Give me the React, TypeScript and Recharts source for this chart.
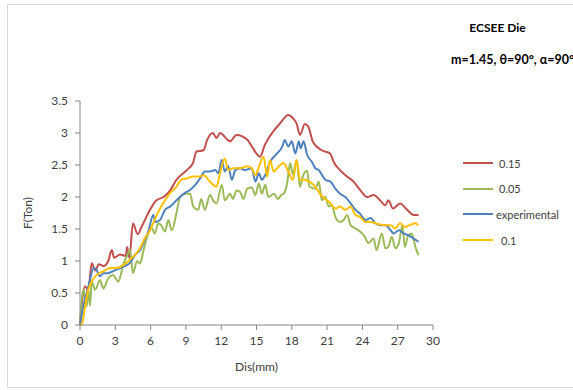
import { LineChart, Line, XAxis, YAxis, Label } from 'recharts'

type Pt = { x: number; y: number }

const X_TICKS = [0, 3, 6, 9, 12, 15, 18, 21, 24, 27, 30]
const Y_TICKS = [0, 0.5, 1, 1.5, 2, 2.5, 3, 3.5]

// m = 0.15
const red: Pt[] = [
  { x: 0, y: 0 }, { x: 0.43, y: 0.6 }, { x: 0.7, y: 0.55 }, { x: 1.0, y: 0.97 }, { x: 1.3, y: 0.85 },
  { x: 1.6, y: 0.95 }, { x: 2.0, y: 0.92 }, { x: 2.4, y: 1.0 }, { x: 2.7, y: 1.17 }, { x: 2.9, y: 1.05 },
  { x: 3.4, y: 1.1 }, { x: 3.9, y: 1.08 }, { x: 4.0, y: 1.22 }, { x: 4.2, y: 1.05 }, { x: 4.5, y: 1.59 },
  { x: 4.9, y: 1.42 }, { x: 5.2, y: 1.52 }, { x: 5.95, y: 1.8 }, { x: 6.5, y: 1.95 }, { x: 7.1, y: 2.0 },
  { x: 7.65, y: 2.1 }, { x: 8.2, y: 2.27 }, { x: 9.07, y: 2.42 }, { x: 9.6, y: 2.53 }, { x: 9.9, y: 2.71 },
  { x: 10.5, y: 2.73 }, { x: 10.8, y: 2.89 }, { x: 11.3, y: 3.0 }, { x: 11.6, y: 2.92 }, { x: 11.9, y: 3.0 },
  { x: 12.75, y: 2.87 }, { x: 13.3, y: 2.97 }, { x: 14.2, y: 2.9 }, { x: 14.6, y: 2.79 }, { x: 15.3, y: 2.63 },
  { x: 15.7, y: 2.81 }, { x: 16.4, y: 3.02 }, { x: 17.0, y: 3.15 }, { x: 17.7, y: 3.28 }, { x: 18.1, y: 3.23 },
  { x: 18.4, y: 3.15 }, { x: 18.7, y: 2.97 }, { x: 19.1, y: 3.14 }, { x: 19.4, y: 3.1 }, { x: 19.8, y: 2.86 },
  { x: 20.55, y: 2.73 }, { x: 21.26, y: 2.68 }, { x: 21.55, y: 2.55 }, { x: 22.1, y: 2.42 }, { x: 22.7, y: 2.32 },
  { x: 23.25, y: 2.24 }, { x: 23.8, y: 2.11 }, { x: 24.4, y: 2.0 }, { x: 24.95, y: 2.03 }, { x: 25.5, y: 1.95 },
  { x: 25.95, y: 1.87 }, { x: 26.2, y: 1.95 }, { x: 26.6, y: 1.82 }, { x: 27.2, y: 1.9 }, { x: 27.8, y: 1.8 },
  { x: 28.35, y: 1.72 }, { x: 28.77, y: 1.72 },
]

// m = 0.05
const green: Pt[] = [
  { x: 0, y: 0 }, { x: 0.28, y: 0.55 }, { x: 0.57, y: 0.29 }, { x: 0.7, y: 0.55 }, { x: 0.85, y: 0.3 },
  { x: 1.0, y: 0.68 }, { x: 1.28, y: 0.55 }, { x: 1.7, y: 0.7 }, { x: 1.98, y: 0.57 }, { x: 2.4, y: 0.73 },
  { x: 2.8, y: 0.78 }, { x: 3.26, y: 0.68 }, { x: 3.7, y: 0.96 }, { x: 3.97, y: 1.07 }, { x: 4.25, y: 1.17 },
  { x: 4.5, y: 0.81 }, { x: 4.85, y: 1.0 }, { x: 5.1, y: 0.96 }, { x: 5.4, y: 1.17 }, { x: 5.8, y: 1.43 },
  { x: 6.1, y: 1.51 }, { x: 6.35, y: 1.43 }, { x: 6.66, y: 1.59 }, { x: 6.9, y: 1.56 }, { x: 7.23, y: 1.46 },
  { x: 7.5, y: 1.64 }, { x: 7.8, y: 1.48 }, { x: 8.2, y: 1.75 }, { x: 8.5, y: 2.0 }, { x: 8.9, y: 2.05 },
  { x: 9.35, y: 2.05 }, { x: 9.63, y: 1.85 }, { x: 10.05, y: 1.8 }, { x: 10.3, y: 1.97 }, { x: 10.6, y: 1.8 },
  { x: 11.05, y: 2.03 }, { x: 11.3, y: 1.95 }, { x: 11.6, y: 1.9 }, { x: 12.05, y: 2.19 }, { x: 12.3, y: 1.95 },
  { x: 12.75, y: 2.05 }, { x: 13.0, y: 1.97 }, { x: 13.3, y: 2.1 }, { x: 13.6, y: 2.08 }, { x: 13.9, y: 1.97 },
  { x: 14.2, y: 2.13 }, { x: 14.6, y: 2.15 }, { x: 14.9, y: 2.03 }, { x: 15.2, y: 2.21 }, { x: 15.45, y: 2.05 },
  { x: 15.75, y: 2.19 }, { x: 16.0, y: 2.0 }, { x: 16.5, y: 2.05 }, { x: 16.8, y: 1.97 }, { x: 17.1, y: 2.03 },
  { x: 17.35, y: 2.06 }, { x: 17.6, y: 2.21 }, { x: 17.86, y: 2.53 }, { x: 18.1, y: 2.35 }, { x: 18.4, y: 2.58 },
  { x: 18.7, y: 2.16 }, { x: 18.95, y: 2.33 }, { x: 19.3, y: 2.41 }, { x: 19.5, y: 2.16 }, { x: 20.0, y: 2.13 },
  { x: 20.3, y: 2.24 }, { x: 20.55, y: 1.95 }, { x: 20.85, y: 2.0 }, { x: 21.15, y: 1.85 }, { x: 21.4, y: 1.87 },
  { x: 21.7, y: 1.69 }, { x: 22.1, y: 1.61 }, { x: 22.4, y: 1.64 }, { x: 22.7, y: 1.72 }, { x: 23.0, y: 1.56 },
  { x: 23.4, y: 1.51 }, { x: 23.8, y: 1.46 }, { x: 24.2, y: 1.38 }, { x: 24.5, y: 1.28 }, { x: 24.95, y: 1.35 },
  { x: 25.2, y: 1.17 }, { x: 25.65, y: 1.43 }, { x: 25.95, y: 1.2 }, { x: 26.2, y: 1.22 }, { x: 26.5, y: 1.38 },
  { x: 26.8, y: 1.2 }, { x: 27.1, y: 1.28 }, { x: 27.4, y: 1.56 }, { x: 27.6, y: 1.22 }, { x: 27.9, y: 1.4 },
  { x: 28.2, y: 1.43 }, { x: 28.5, y: 1.22 }, { x: 28.77, y: 1.09 },
]

// experimental
const blue: Pt[] = [
  { x: 0, y: 0 }, { x: 0.28, y: 0.29 }, { x: 0.57, y: 0.5 }, { x: 0.85, y: 0.7 }, { x: 1.13, y: 0.89 },
  { x: 1.4, y: 0.86 }, { x: 1.7, y: 0.76 }, { x: 2.0, y: 0.81 }, { x: 2.4, y: 0.81 }, { x: 2.8, y: 0.84 },
  { x: 3.4, y: 0.89 }, { x: 3.8, y: 0.92 }, { x: 4.25, y: 0.97 }, { x: 4.7, y: 1.1 }, { x: 5.1, y: 1.17 },
  { x: 5.5, y: 1.33 }, { x: 5.8, y: 1.46 }, { x: 6.23, y: 1.72 }, { x: 6.4, y: 1.61 }, { x: 6.8, y: 1.64 },
  { x: 7.23, y: 1.8 }, { x: 7.65, y: 1.85 }, { x: 8.1, y: 1.93 }, { x: 8.5, y: 2.0 }, { x: 8.9, y: 2.06 },
  { x: 9.35, y: 2.11 }, { x: 9.8, y: 2.19 }, { x: 10.2, y: 2.29 }, { x: 10.6, y: 2.4 }, { x: 11.05, y: 2.4 },
  { x: 11.5, y: 2.42 }, { x: 11.75, y: 2.37 }, { x: 12.05, y: 2.58 }, { x: 12.3, y: 2.4 }, { x: 12.6, y: 2.48 },
  { x: 12.9, y: 2.27 }, { x: 13.2, y: 2.42 }, { x: 13.6, y: 2.45 }, { x: 14.0, y: 2.42 }, { x: 14.6, y: 2.45 },
  { x: 14.9, y: 2.24 }, { x: 15.2, y: 2.37 }, { x: 15.45, y: 2.27 }, { x: 15.75, y: 2.35 }, { x: 16.16, y: 2.55 },
  { x: 16.75, y: 2.68 }, { x: 17.2, y: 2.79 }, { x: 17.4, y: 2.89 }, { x: 17.7, y: 2.79 }, { x: 18.0, y: 2.87 },
  { x: 18.3, y: 2.68 }, { x: 18.6, y: 2.87 }, { x: 18.75, y: 2.76 }, { x: 19.0, y: 2.87 }, { x: 19.3, y: 2.66 },
  { x: 19.7, y: 2.55 }, { x: 20.0, y: 2.45 }, { x: 20.3, y: 2.42 }, { x: 20.55, y: 2.35 }, { x: 20.85, y: 2.27 },
  { x: 21.3, y: 2.24 }, { x: 21.7, y: 2.13 }, { x: 22.1, y: 2.05 }, { x: 22.55, y: 2.0 }, { x: 23.0, y: 1.9 },
  { x: 23.4, y: 1.8 }, { x: 23.8, y: 1.74 }, { x: 24.25, y: 1.64 }, { x: 24.7, y: 1.67 }, { x: 25.1, y: 1.59 },
  { x: 25.5, y: 1.56 }, { x: 25.95, y: 1.56 }, { x: 26.4, y: 1.48 }, { x: 26.65, y: 1.43 }, { x: 27.1, y: 1.48 },
  { x: 27.5, y: 1.43 }, { x: 27.95, y: 1.4 }, { x: 28.35, y: 1.35 }, { x: 28.77, y: 1.3 },
]

// m = 0.1
const yellow: Pt[] = [
  { x: 0, y: 0 }, { x: 0.15, y: 0 }, { x: 0.43, y: 0.29 }, { x: 0.7, y: 0.55 }, { x: 1.0, y: 0.68 },
  { x: 1.4, y: 0.78 }, { x: 2.0, y: 0.84 }, { x: 2.55, y: 0.89 }, { x: 3.1, y: 0.89 }, { x: 3.7, y: 0.94 },
  { x: 4.25, y: 1.02 }, { x: 4.7, y: 1.1 }, { x: 5.1, y: 1.2 }, { x: 5.5, y: 1.35 }, { x: 5.95, y: 1.48 },
  { x: 6.4, y: 1.67 }, { x: 6.8, y: 1.82 }, { x: 7.23, y: 1.95 }, { x: 7.65, y: 2.06 }, { x: 8.2, y: 2.16 },
  { x: 8.6, y: 2.27 }, { x: 9.05, y: 2.29 }, { x: 9.6, y: 2.32 }, { x: 10.2, y: 2.32 }, { x: 10.5, y: 2.34 },
  { x: 11.05, y: 2.24 }, { x: 11.6, y: 2.16 }, { x: 11.9, y: 2.37 }, { x: 12.3, y: 2.6 }, { x: 12.6, y: 2.42 },
  { x: 13.0, y: 2.45 }, { x: 13.6, y: 2.45 }, { x: 14.2, y: 2.48 }, { x: 14.6, y: 2.45 }, { x: 14.9, y: 2.34 },
  { x: 15.2, y: 2.47 }, { x: 15.6, y: 2.63 }, { x: 15.9, y: 2.32 }, { x: 16.16, y: 2.58 }, { x: 16.45, y: 2.4 },
  { x: 16.9, y: 2.48 }, { x: 17.3, y: 2.53 }, { x: 17.7, y: 2.4 }, { x: 18.1, y: 2.27 }, { x: 18.4, y: 2.58 },
  { x: 18.7, y: 2.27 }, { x: 19.1, y: 2.27 }, { x: 19.5, y: 2.24 }, { x: 20.0, y: 2.16 }, { x: 20.4, y: 2.05 },
  { x: 20.85, y: 1.97 }, { x: 21.3, y: 1.9 }, { x: 21.7, y: 1.82 }, { x: 22.1, y: 1.85 }, { x: 22.55, y: 1.8 },
  { x: 23.0, y: 1.85 }, { x: 23.4, y: 1.72 }, { x: 23.8, y: 1.69 }, { x: 24.25, y: 1.61 }, { x: 24.7, y: 1.61 },
  { x: 25.1, y: 1.59 }, { x: 25.5, y: 1.57 }, { x: 25.95, y: 1.56 }, { x: 26.4, y: 1.56 }, { x: 26.8, y: 1.51 },
  { x: 27.2, y: 1.59 }, { x: 27.6, y: 1.53 }, { x: 28.0, y: 1.56 }, { x: 28.5, y: 1.59 }, { x: 28.77, y: 1.56 },
]

const SERIES = [
  { name: '0.15', data: red, color: '#C0504D' },
  { name: '0.05', data: green, color: '#9BBB59' },
  { name: 'experimental', data: blue, color: '#4F81BD' },
  { name: '0.1', data: yellow, color: '#FFC000' },
]

const FONT = 'Lato, "Open Sans", sans-serif'
const axisColor = '#868686'
const textColor = '#404040'

export default function App() {
  return (
    <div style={{ position: 'absolute', left: 0, top: 0, width: 573, height: 390, background: '#fff', overflow: 'hidden', fontFamily: FONT }}>
      <div style={{ position: 'absolute', left: 7, top: 4, width: 600, height: 382, border: '1px solid #d9d9d9' }} />
      <div style={{ position: 'absolute', left: 440, top: 20, width: 115, textAlign: 'center', fontSize: 12, fontWeight: 700, color: '#000' }}>
        ECSEE Die
      </div>
      <div style={{ position: 'absolute', left: 451, top: 52, whiteSpace: 'nowrap', fontSize: 12.5, fontWeight: 700, color: '#000' }}>
        m=1.45, θ=90°, α=90°
      </div>

      <LineChart width={573} height={390} margin={{ top: 101, right: 140, bottom: 35, left: 40 }} style={{ position: 'absolute', left: 0, top: 0 }}>
        <XAxis
          type="number"
          dataKey="x"
          domain={[0, 30]}
          ticks={X_TICKS}
          height={30}
          stroke={axisColor}
          tickSize={5}
          tickMargin={6}
          tick={{ fill: textColor, fontSize: 12, fontFamily: FONT }}
        >
          <Label value="Dis(mm)" position="insideBottom" offset={-16} style={{ fill: textColor, fontSize: 12, fontFamily: FONT }} />
        </XAxis>
        <YAxis
          type="number"
          dataKey="y"
          domain={[0, 3.5]}
          ticks={Y_TICKS}
          width={40}
          stroke={axisColor}
          tickSize={5}
          tickMargin={7}
          tick={{ fill: textColor, fontSize: 12, fontFamily: FONT }}
        >
          <Label value="F(Ton)" angle={-90} position="insideLeft" offset={-12} style={{ fill: textColor, fontSize: 12, fontFamily: FONT, textAnchor: 'middle' }} />
        </YAxis>
        {SERIES.map((s) => (
          <Line
            key={s.name}
            data={s.data}
            dataKey="y"
            name={s.name}
            type="monotone"
            stroke={s.color}
            strokeWidth={2}
            dot={false}
            isAnimationActive={false}
          />
        ))}
      </LineChart>

      {SERIES.map((s, i) => (
        <div key={s.name} style={{ position: 'absolute', left: 463, top: 156 + i * 25.7, height: 14, display: 'flex', alignItems: 'center', fontSize: 11, color: textColor }}>
          <span style={{ display: 'inline-block', width: 30, height: 2, background: s.color, marginRight: s.name === 'experimental' ? 3 : 6 }} />
          <span style={{ marginLeft: s.name === '0.1' ? 2 : 0 }}>{s.name}</span>
        </div>
      ))}
    </div>
  )
}
